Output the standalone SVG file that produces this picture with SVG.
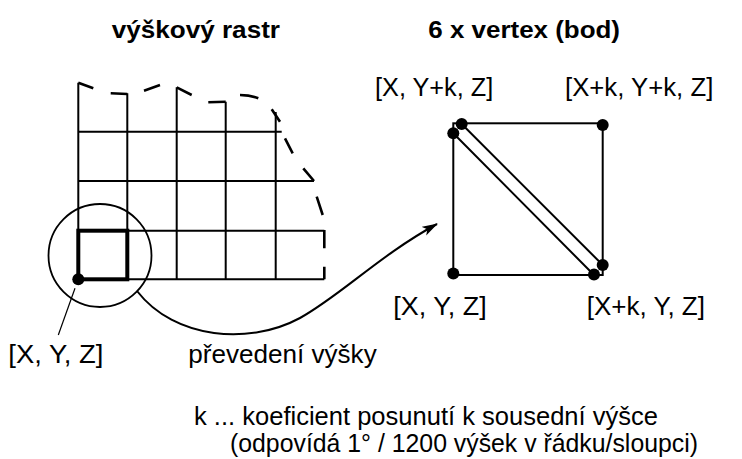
<svg xmlns="http://www.w3.org/2000/svg" width="742" height="459" viewBox="0 0 742 459">
<style>
  .t { font-family: "Liberation Sans", Arial, sans-serif; font-size: 25.5px; fill: #000; }
  .b { font-family: "Liberation Sans", Arial, sans-serif; font-size: 24px; font-weight: bold; fill: #000; }
  .g { stroke: #000; stroke-width: 2; fill: none; }
  .d { stroke: #000; stroke-width: 2.6; fill: none; }
  .dot { fill: #000; }
</style>
<defs>
  <marker id="arr" markerUnits="userSpaceOnUse" markerWidth="18" markerHeight="12" refX="15" refY="5" orient="auto">
    <path d="M0,0 L16,5 L0,10 L4,5 z" fill="#000"/>
  </marker>
</defs>
<rect width="742" height="459" fill="#fff"/>

<text class="b" x="111.7" y="37.5" textLength="168.3" lengthAdjust="spacingAndGlyphs">výškový rastr</text>
<text class="b" x="428.3" y="37.5" textLength="191.7" lengthAdjust="spacingAndGlyphs">6 x vertex (bod)</text>

<g id="raster">
  <path class="g" d="M78.3,82.7 V279.3 M127.3,93.3 V279.3 M176.7,87.3 V279.3 M225.7,101.7 V279.3 M275.7,112 V279.3"/>
  <path class="g" d="M78.3,131.7 H281.7 M78.3,181 H314 M78.3,230.7 H324.3 M78.3,279.3 H324.3"/>
  <path class="d" d="M78.3,82.7 L93.3,88.3 M110.7,93.3 L127.3,94 M144,90.7 L160,85 M176.7,87.3 L191.7,95 M208.3,102.3 L225.7,101.7 M240,95 Q250,95 258.3,98.3 M271.7,109.3 L280,121.7 M285,138.3 L292.7,153.3 M303.3,168.3 L314,181 M316.7,196.7 L322.7,215 M324.3,230 V248.3 M324.3,266.7 V279.3"/>
  <rect x="78.3" y="230.7" width="49" height="48.6" fill="none" stroke="#000" stroke-width="4"/>
  <circle class="dot" cx="78.3" cy="279.3" r="6"/>
  <circle cx="100" cy="255.5" r="51.5" fill="none" stroke="#000" stroke-width="1.8"/>
</g>

<g id="quad">
  <rect class="g" x="453.3" y="123.3" width="149.4" height="151.7"/>
  <path class="g" d="M461.7,124 L602.7,265 M453.3,133.3 L594,275"/>
  <circle class="dot" cx="461.7" cy="124" r="6"/>
  <circle class="dot" cx="453.3" cy="133.3" r="6"/>
  <circle class="dot" cx="602.7" cy="125" r="6"/>
  <circle class="dot" cx="453.3" cy="273.5" r="6"/>
  <circle class="dot" cx="602.7" cy="265" r="6"/>
  <circle class="dot" cx="594" cy="274.5" r="6"/>
</g>

<g id="labels">
  <text class="t" x="375" y="96" textLength="118.3" lengthAdjust="spacingAndGlyphs">[X, Y+k, Z]</text>
  <text class="t" x="565" y="96" textLength="148.3" lengthAdjust="spacingAndGlyphs">[X+k, Y+k, Z]</text>
  <text class="t" x="393.3" y="315" textLength="93.4" lengthAdjust="spacingAndGlyphs">[X, Y, Z]</text>
  <text class="t" x="586.7" y="315" textLength="118.3" lengthAdjust="spacingAndGlyphs">[X+k, Y, Z]</text>
  <text class="t" x="8.3" y="363" textLength="95" lengthAdjust="spacingAndGlyphs">[X, Y, Z]</text>
  <text class="t" x="188.3" y="363" textLength="188.4" lengthAdjust="spacingAndGlyphs">převedení výšky</text>
  <text class="t" x="194" y="425" textLength="464" lengthAdjust="spacingAndGlyphs">k ... koeficient posunutí k sousední výšce</text>
  <text class="t" x="230" y="452" textLength="468" lengthAdjust="spacingAndGlyphs">(odpovídá 1° / 1200 výšek v řádku/sloupci)</text>
</g>

<g id="connectors">
  <path d="M137,291 C175,340 250,345 300,318 C340,296 380,255 437,224" fill="none" stroke="#000" stroke-width="2" marker-end="url(#arr)"/>
  <path d="M75,288.3 L58.3,335" fill="none" stroke="#000" stroke-width="1.2"/>
</g>
</svg>
